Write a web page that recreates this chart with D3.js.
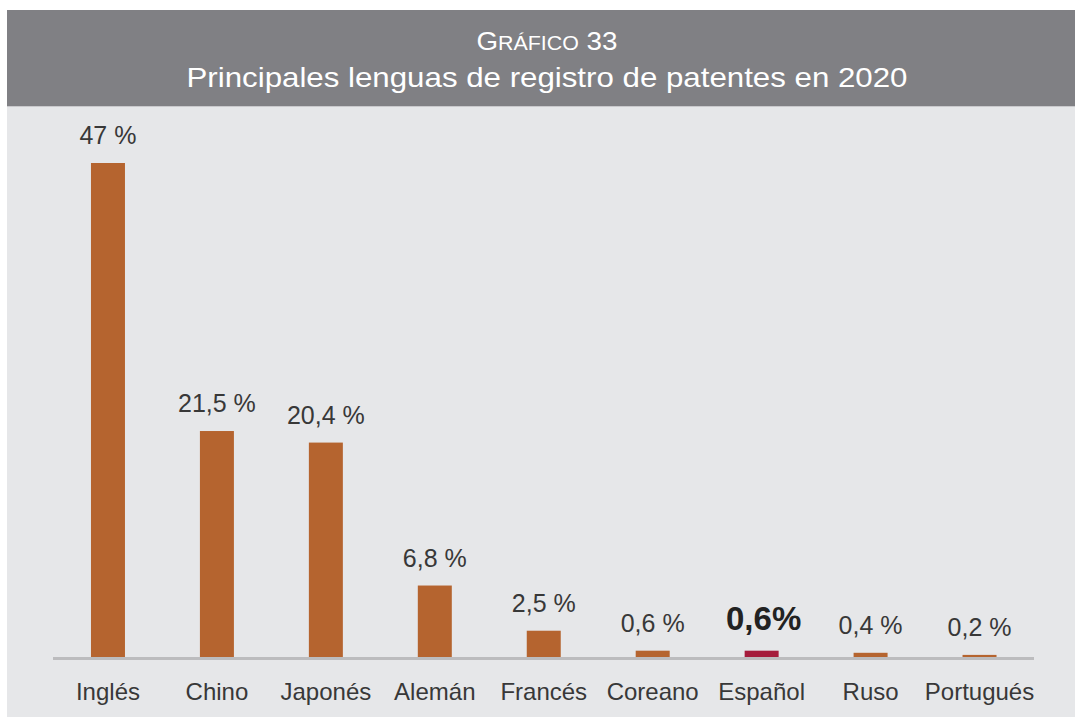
<!DOCTYPE html>
<html>
<head>
<meta charset="utf-8">
<script src="https://cdn.jsdelivr.net/npm/d3@7"></script>
<style>
  body { margin: 0; background: #fff; }
  svg { display: block; font-family: "Liberation Sans", Arial, sans-serif; }
</style>
</head>
<body>
<div id="chart"></div>
<script>
var languages = ["Inglés", "Chino", "Japonés", "Alemán", "Francés", "Coreano", "Español", "Ruso", "Portugués"];
var shares = [47, 21.5, 20.4, 6.8, 2.5, 0.6, 0.6, 0.4, 0.2];
var highlight = "Español";

var width = 1075;
var height = 719;
var baseY = 657;

var svg = d3.select("#chart")
            .append("svg")
            .attr("width", width)
            .attr("height", height);

// panel + header
svg.append("rect")
   .attr("x", 7).attr("y", 10)
   .attr("width", width - 7).attr("height", 707)
   .attr("fill", "#e6e7e9");
svg.append("rect")
   .attr("x", 7).attr("y", 10)
   .attr("width", width - 7).attr("height", 96)
   .attr("fill", "#808084");
svg.append("rect")
   .attr("x", 7).attr("y", 106)
   .attr("width", width - 7).attr("height", 1)
   .attr("fill", "#c9c9cc");

var head = svg.append("text")
   .attr("x", 547).attr("y", 50)
   .attr("text-anchor", "middle")
   .attr("fill", "#fff")
   .attr("font-size", 26)
   .attr("textLength", 141)
   .attr("lengthAdjust", "spacingAndGlyphs");
head.append("tspan").text("G");
head.append("tspan").attr("font-size", 20).text("RÁFICO");
head.append("tspan").text(" 33");

svg.append("text")
   .attr("x", 547).attr("y", 87)
   .attr("text-anchor", "middle")
   .attr("fill", "#fff")
   .attr("font-size", 28)
   .attr("textLength", 721)
   .attr("lengthAdjust", "spacingAndGlyphs")
   .text("Principales lenguas de registro de patentes en 2020");

var x = d3.scaleBand()
          .domain(languages)
          .range([53.5, 1034])
          .paddingInner(0.688)
          .paddingOuter(0.344);

var y = d3.scaleLinear()
          .domain([0, 47])
          .range([baseY, 163]);

var data = languages.map(function(d, i) { return { lang: d, value: shares[i] }; });

svg.selectAll(".bar")
   .data(data)
   .enter()
   .append("rect")
   .attr("class", "bar")
   .attr("x", function(d) { return x(d.lang); })
   .attr("width", x.bandwidth())
   .attr("y", function(d) { return y(d.value); })
   .attr("height", function(d) { return baseY - y(d.value); })
   .attr("fill", function(d) { return d.lang == highlight ? "#a51c3c" : "#b5642f"; });

// baseline
svg.append("line")
   .attr("x1", 53).attr("x2", 1034)
   .attr("y1", baseY + 1.5).attr("y2", baseY + 1.5)
   .attr("stroke", "#bcbcbe")
   .attr("stroke-width", 3);

var fmt = function(v) { return String(v).replace(".", ","); };

svg.selectAll(".val")
   .data(data)
   .enter()
   .append("text")
   .attr("class", "val")
   .attr("x", function(d) { return x(d.lang) + x.bandwidth() / 2 + (d.lang == highlight ? 2 : 0); })
   .attr("y", function(d) { return y(d.value) - (d.lang == highlight ? 21 : 19); })
   .attr("text-anchor", "middle")
   .attr("fill", function(d) { return d.lang == highlight ? "#222" : "#383838"; })
   .attr("font-size", function(d) { return d.lang == highlight ? 33 : 25; })
   .attr("font-weight", function(d) { return d.lang == highlight ? "bold" : "normal"; })
   .text(function(d) { return d.lang == highlight ? fmt(d.value) + "%" : fmt(d.value) + " %"; });

svg.selectAll(".cat")
   .data(data)
   .enter()
   .append("text")
   .attr("class", "cat")
   .attr("x", function(d) { return x(d.lang) + x.bandwidth() / 2; })
   .attr("y", 700)
   .attr("text-anchor", "middle")
   .attr("fill", "#383838")
   .attr("font-size", 24)
   .text(function(d) { return d.lang; });
</script>
</body>
</html>
